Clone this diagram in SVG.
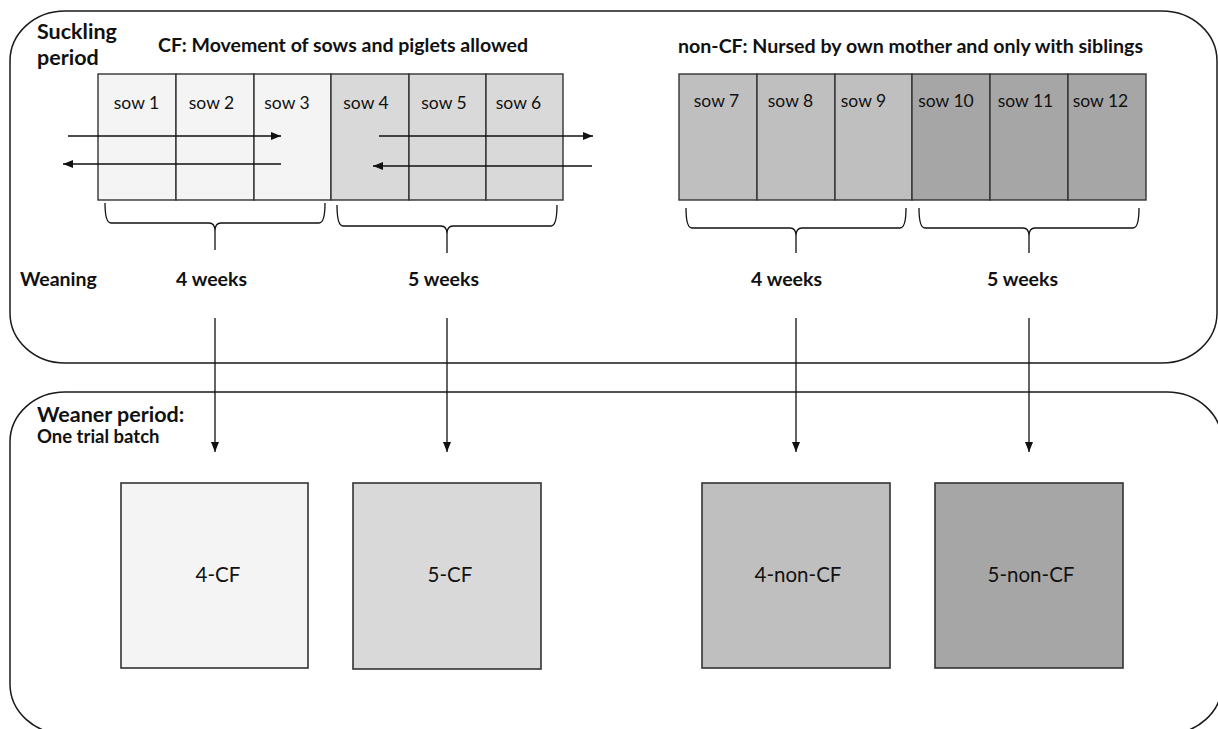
<svg xmlns="http://www.w3.org/2000/svg" width="1218" height="729" viewBox="0 0 1218 729">
<style>
.frame{fill:none;stroke:#1a1a1a;stroke-width:1.5}
.cell{stroke:#333;stroke-width:1.4}
.box{stroke:#333;stroke-width:1.6}
.c1{fill:#f4f4f4}.c2{fill:#d9d9d9}.c3{fill:#bfbfbf}.c4{fill:#a6a6a6}
.b{font-family:Lato,"Liberation Sans",sans-serif;font-weight:bold;fill:#111}
.r{font-family:Lato,"Liberation Sans",sans-serif;fill:#111}
.sow{font-size:17.5px;text-anchor:middle}
.lab{font-size:20.5px;text-anchor:middle}
.wk{font-size:19.5px;text-anchor:middle}
.big{font-size:21.5px}
.con{fill:none;stroke:#111;stroke-width:1.3}
</style>
<defs>
<marker id="ah" markerUnits="userSpaceOnUse" markerWidth="10" markerHeight="8" refX="10" refY="4" orient="auto">
<path d="M0,0 L10,4 L0,8 z" fill="#111"/>
</marker>
</defs>
<g id="suckling-frame">
<rect class="frame" x="10" y="11" width="1207" height="352" rx="55" ry="50"/>
<text class="b big" x="37" y="39">Suckling</text>
<text class="b big" x="37" y="65">period</text>
<text class="b" x="158" y="52" font-size="19.5" textLength="370" lengthAdjust="spacingAndGlyphs">CF: Movement of sows and piglets allowed</text>
<text class="b" x="678" y="53" font-size="19.5" textLength="465" lengthAdjust="spacingAndGlyphs">non-CF: Nursed by own mother and only with siblings</text>
<text class="b" x="20" y="286" font-size="19.5">Weaning</text>
</g>
<g id="weaner-frame">
<rect class="frame" x="10" y="392" width="1212" height="342" rx="55" ry="50"/>
<text class="b big" x="37" y="422">Weaner period:</text>
<text class="b" x="37" y="443" font-size="18.5">One trial batch</text>
</g>
<g id="cf-sows">
<rect class="cell c1" x="98" y="74" width="78" height="126"/>
<rect class="cell c1" x="176" y="74" width="78" height="126"/>
<rect class="cell c1" x="254" y="74" width="77" height="126"/>
<rect class="cell c2" x="331" y="74" width="78" height="126"/>
<rect class="cell c2" x="409" y="74" width="77" height="126"/>
<rect class="cell c2" x="486" y="74" width="77" height="126"/>
<text class="r sow" x="136.5" y="109">sow 1</text>
<text class="r sow" x="211.5" y="109">sow 2</text>
<text class="r sow" x="287" y="109">sow 3</text>
<text class="r sow" x="366" y="109">sow 4</text>
<text class="r sow" x="444" y="109">sow 5</text>
<text class="r sow" x="518.5" y="109">sow 6</text>
</g>
<g id="noncf-sows">
<rect class="cell c3" x="679" y="74" width="78" height="126"/>
<rect class="cell c3" x="757" y="74" width="78" height="126"/>
<rect class="cell c3" x="835" y="74" width="77" height="126"/>
<rect class="cell c4" x="912" y="74" width="78" height="126"/>
<rect class="cell c4" x="990" y="74" width="78" height="126"/>
<rect class="cell c4" x="1068" y="74" width="78" height="126"/>
<text class="r sow" x="716.5" y="107">sow 7</text>
<text class="r sow" x="790.5" y="107">sow 8</text>
<text class="r sow" x="863.5" y="107">sow 9</text>
<text class="r sow" x="946" y="107">sow 10</text>
<text class="r sow" x="1025.5" y="107">sow 11</text>
<text class="r sow" x="1100.5" y="107">sow 12</text>
</g>
<g id="weeks-labels">
<text class="b wk" x="211.5" y="286">4 weeks</text>
<text class="b wk" x="443.5" y="286">5 weeks</text>
<text class="b wk" x="786.5" y="286">4 weeks</text>
<text class="b wk" x="1022.5" y="286">5 weeks</text>
</g>
<g id="box-4-cf">
<rect class="box c1" x="121" y="483" width="187" height="185"/>
<text class="r lab" x="218" y="582">4-CF</text>
</g>
<g id="box-5-cf">
<rect class="box c2" x="353" y="483" width="188" height="186"/>
<text class="r lab" x="450" y="582">5-CF</text>
</g>
<g id="box-4-non-cf">
<rect class="box c3" x="702" y="483" width="188" height="185"/>
<text class="r lab" x="798" y="582">4-non-CF</text>
</g>
<g id="box-5-non-cf">
<rect class="box c4" x="935" y="483" width="188" height="185"/>
<text class="r lab" x="1031" y="582">5-non-CF</text>
</g>
<g id="connectors">
<line class="con" x1="68" y1="136" x2="281" y2="136" marker-end="url(#ah)"/>
<line class="con" x1="281" y1="164" x2="63" y2="164" marker-end="url(#ah)"/>
<line class="con" x1="379" y1="136" x2="593" y2="136" marker-end="url(#ah)"/>
<line class="con" x1="592" y1="166" x2="373" y2="166" marker-end="url(#ah)"/>
<path class="con" d="M105 203 Q105 223 111 223 L209 223 Q215 223 215 231 L215 250 M215 231 Q215 223 221 223 L319 223 Q325 223 325 203"/>
<path class="con" d="M337 205 Q337 226 343 226 L441 226 Q447 226 447 234 L447 253 M447 234 Q447 226 453 226 L551 226 Q557 226 557 205"/>
<path class="con" d="M686 208 Q686 228 692 228 L790 228 Q796 228 796 236 L796 253 M796 236 Q796 228 802 228 L900 228 Q906 228 906 208"/>
<path class="con" d="M919 208 Q919 228 925 228 L1023 228 Q1029 228 1029 236 L1029 253 M1029 236 Q1029 228 1035 228 L1133 228 Q1139 228 1139 208"/>
<line class="con" x1="215" y1="318" x2="215" y2="452" marker-end="url(#ah)"/>
<line class="con" x1="447" y1="318" x2="447" y2="452" marker-end="url(#ah)"/>
<line class="con" x1="796" y1="318" x2="796" y2="452" marker-end="url(#ah)"/>
<line class="con" x1="1029" y1="318" x2="1029" y2="452" marker-end="url(#ah)"/>
</g>
</svg>
